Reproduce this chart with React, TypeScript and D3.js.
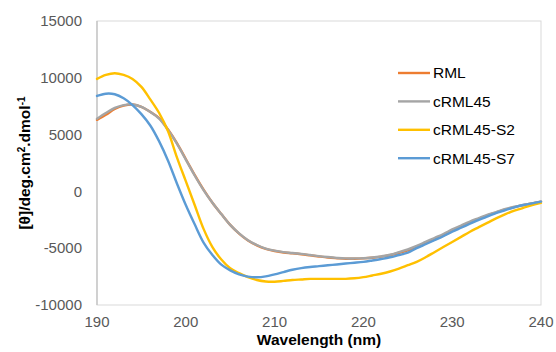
import * as d3 from 'd3';
import React from 'react';

// wavelength (nm)
const wavelengths = [
  190, 191, 192, 193, 194, 195, 196, 197, 198, 199,
  200, 201, 202, 203, 204, 205, 206, 207, 208, 209,
  210, 211, 212, 213, 214, 215, 216, 217, 218, 219,
  220, 221, 222, 223, 224, 225, 226, 227, 228, 229,
  230, 231, 232, 233, 234, 235, 236, 237, 238, 239, 240,
];

const rml = [
  6300, 6750, 7250, 7550, 7650, 7450, 7000, 6450, 5450, 4250,
  2850, 1450, 150, -1000, -2000, -2950, -3720, -4320, -4750, -5060,
  -5250, -5380, -5450, -5530, -5630, -5730, -5820, -5880, -5930, -5930,
  -5900, -5840, -5740, -5620, -5420, -5200, -4920, -4580, -4230, -3870,
  -3470, -3100, -2740, -2420, -2100, -1840, -1580, -1380, -1210, -1060, -900,
];

const crml45 = [
  6400, 6900, 7350, 7600, 7650, 7450, 7000, 6400, 5400, 4200,
  2800, 1400, 120, -1000, -2000, -2950, -3700, -4300, -4720, -5030,
  -5220, -5350, -5420, -5500, -5600, -5700, -5780, -5850, -5900, -5900,
  -5880, -5820, -5720, -5580, -5350, -5100, -4800, -4450, -4100, -3750,
  -3350, -3000, -2650, -2350, -2050, -1800, -1550, -1350, -1200, -1050, -900,
];

const crml45S2 = [
  9900, 10250, 10400, 10250, 9900, 9200, 8100, 6900, 5300, 3000,
  900, -1200, -3300, -4900, -6000, -6770, -7200, -7550, -7800, -7930,
  -7950, -7880, -7800, -7750, -7700, -7700, -7700, -7700, -7700, -7650,
  -7550, -7400, -7250, -7050, -6800, -6500, -6200, -5800, -5350, -4900,
  -4450, -4000, -3550, -3150, -2750, -2350, -2000, -1700, -1450, -1200, -1000,
];

const crml45S7 = [
  8400, 8600, 8550, 8200, 7600, 6800, 5800, 4400, 2700, 700,
  -1200, -2900, -4500, -5600, -6450, -6950, -7300, -7500, -7560, -7480,
  -7300, -7100, -6900, -6750, -6650, -6580, -6500, -6430, -6350, -6280,
  -6200, -6080, -5950, -5800, -5600, -5400, -5000, -4650, -4300, -3950,
  -3550, -3200, -2850, -2500, -2200, -1900, -1650, -1400, -1200, -1050, -900,
];

const seriesNames = ['RML', 'cRML45', 'cRML45-S2', 'cRML45-S7'];
const seriesValues = [rml, crml45, crml45S2, crml45S7];
const seriesColors = ['#ED7D31', '#A5A5A5', '#FFC000', '#5B9BD5'];

const xTicks = [190, 200, 210, 220, 230, 240];
const yTicks = [-10000, -5000, 0, 5000, 10000, 15000];

const W = 556;
const H = 352;
const margin = { top: 21, right: 15, bottom: 47, left: 97 };
const font = 'Arial, "Liberation Sans", sans-serif';

const App = () => {
  const innerW = W - margin.left - margin.right;
  const innerH = H - margin.top - margin.bottom;

  const x = d3.scaleLinear().domain([190, 240]).range([0, innerW]);
  const y = d3.scaleLinear().domain([-10000, 15000]).range([innerH, 0]);

  const line = d3.line<number>()
    .x((d, i) => x(wavelengths[i]))
    .y((d) => y(d))
    .curve(d3.curveCatmullRom.alpha(0.5));

  const legendX = 398;
  const legendY = 73;
  const legendStep = 28.4;

  return (
    <svg width={W} height={H} style={{ position: 'absolute', left: 0, top: 0, background: '#fff' }}>
      <g transform={`translate(${margin.left},${margin.top})`}>
        {/* plot area border */}
        <rect x={0} y={0} width={innerW} height={innerH} fill="none" stroke="#d9d9d9" strokeWidth={1} />
        <line x1={0} x2={0} y1={0} y2={innerH} stroke="#bfbfbf" strokeWidth={1.2} />

        {/* series, in Excel order so later ones sit on top */}
        {seriesValues.map((vals, i) => (
          <path key={seriesNames[i]} d={line(vals) || ''} fill="none"
            stroke={seriesColors[i]} strokeWidth={2.4} strokeLinejoin="round" strokeLinecap="round" />
        ))}

        {/* y tick labels */}
        {yTicks.map((t) => (
          <text key={t} x={-15} y={y(t)} dy="0.35em" textAnchor="end"
            fontFamily={font} fontSize={15} fill="#595959">{t}</text>
        ))}

        {/* x tick labels */}
        {xTicks.map((t) => (
          <text key={t} x={x(t)} y={innerH + 22} textAnchor="middle"
            fontFamily={font} fontSize={15} fill="#595959">{t}</text>
        ))}
      </g>

      {/* axis titles */}
      <text x={margin.left + innerW / 2} y={345} textAnchor="middle"
        fontFamily={font} fontSize={15.5} fontWeight="bold" fill="#000">Wavelength (nm)</text>
      <text transform={`translate(30,${margin.top + innerH / 2}) rotate(-90)`} textAnchor="middle"
        fontFamily={font} fontSize={15.5} fontWeight="bold" fill="#000">
        [θ]/deg.cm<tspan dy={-5} fontSize={10}>2</tspan><tspan dy={5}>.dmol</tspan>
        <tspan dy={-5} fontSize={10}>-1</tspan>
      </text>

      {/* legend */}
      {seriesNames.map((name, i) => (
        <g key={name} transform={`translate(${legendX},${legendY + i * legendStep})`}>
          <line x1={0} x2={32} y1={0} y2={0} stroke={seriesColors[i]} strokeWidth={2.4} />
          <text x={35} y={0} dy="0.35em" fontFamily={font} fontSize={15.5} fill="#000">{name}</text>
        </g>
      ))}
    </svg>
  );
};

export default App;
